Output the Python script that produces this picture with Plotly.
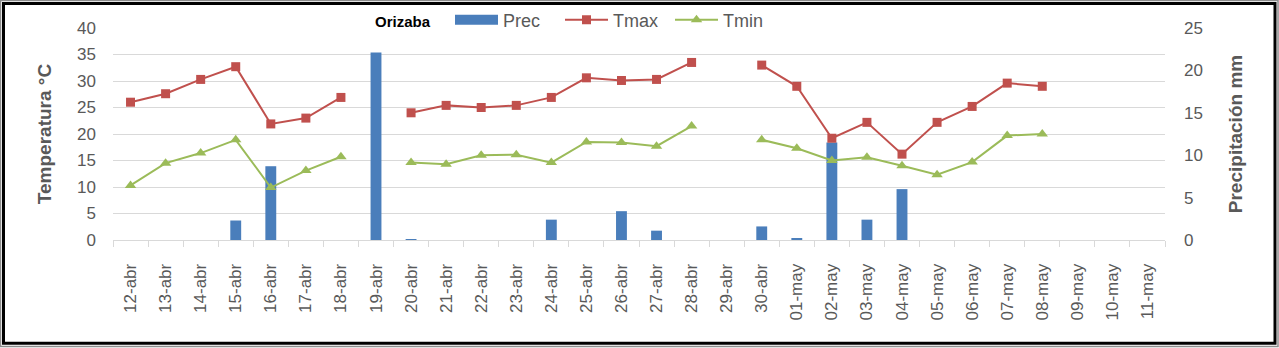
import plotly.graph_objects as go

dates = ["12-abr","13-abr","14-abr","15-abr","16-abr","17-abr","18-abr","19-abr","20-abr",
         "21-abr","22-abr","23-abr","24-abr","25-abr","26-abr","27-abr","28-abr","29-abr",
         "30-abr","01-may","02-may","03-may","04-may","05-may","06-may","07-may","08-may",
         "09-may","10-may","11-may"]

prec = [0, 0, 0, 2.3, 8.7, 0, 0, 22.1, 0.1,
        0, 0, 0, 2.4, 0, 3.4, 1.1, 0, 0,
        1.6, 0.2, 11.5, 2.4, 6.0, 0, 0, 0, 0,
        0, 0, 0]

tmax = [26.0, 27.6, 30.3, 32.7, 21.9, 23.0, 26.9, None, 24.0,
        25.4, 25.0, 25.4, 26.9, 30.6, 30.1, 30.3, 33.5, None,
        33.0, 29.0, 19.2, 22.2, 16.2, 22.2, 25.2, 29.6, 29.0,
        None, None, None]

tmin = [10.3, 14.5, 16.4, 18.9, 9.9, 13.1, 15.7, None, 14.6,
        14.3, 16.0, 16.1, 14.6, 18.5, 18.4, 17.7, 21.5, None,
        18.9, 17.3, 15.0, 15.6, 14.0, 12.3, 14.7, 19.7, 20.0,
        None, None, None]

station = "Orizaba"

FONT = "Liberation Sans"
GRAY = "#595959"
GRID = "#d9d9d9"
BLUE = "#4a7ebb"

fig = go.Figure()
fig.add_trace(go.Bar(x=dates, y=prec, name="Prec", marker=dict(color=BLUE, line=dict(width=0)),
                     yaxis="y", showlegend=False))
# legend proxy for the precipitation bars (wide rectangle symbol)
fig.add_trace(go.Scatter(x=[dates[0]], y=[None], name="Prec", mode="lines", yaxis="y",
                         line=dict(color=BLUE, width=12), hoverinfo="skip"))
fig.add_trace(go.Scatter(x=dates, y=tmax, name="Tmax", mode="lines+markers", yaxis="y2",
                         line=dict(color="#c0504d", width=2),
                         marker=dict(symbol="square", size=9, color="#c0504d"),
                         connectgaps=False))
fig.add_trace(go.Scatter(x=dates, y=tmin, name="Tmin", mode="lines+markers", yaxis="y2",
                         line=dict(color="#9bbb59", width=2),
                         marker=dict(symbol="triangle-up", size=10, color="#9bbb59"),
                         connectgaps=False))

L, R, T, B = 113, 114, 28, 108
W, H = 1279, 348
PW, PH = W - L - R, H - T - B

def px(x):
    return (x - L) / PW

def py(y):
    return (H - B - y) / PH

fig.update_layout(
    width=W, height=H,
    margin=dict(l=L, r=R, t=T, b=B, autoexpand=False),
    paper_bgcolor="white", plot_bgcolor="white",
    font=dict(family=FONT, size=17, color=GRAY),
    bargap=0.69,
    showlegend=True,
    legend=dict(orientation="h", x=px(450), xanchor="left", y=py(20), yanchor="middle",
                font=dict(family=FONT, size=18, color=GRAY),
                itemwidth=43, entrywidth=52, entrywidthmode="pixels",
                traceorder="normal", bgcolor="rgba(0,0,0,0)", borderwidth=0),
    xaxis=dict(type="category", tickangle=-90, showgrid=False,
               showline=True, linecolor=GRID, linewidth=1,
               ticks="outside", ticklen=6, tickcolor=GRID, tickson="boundaries",
               ticklabelstandoff=16,
               tickfont=dict(family=FONT, size=17, color=GRAY),
               range=[-0.5, 29.5]),
    yaxis=dict(side="right", range=[0, 25], tickvals=[0, 5, 10, 15, 20, 25],
               showgrid=False, zeroline=False, showline=False,
               ticks="", ticklabelstandoff=18,
               tickfont=dict(family=FONT, size=17, color=GRAY),
               title=dict(text="<b>Precipitación mm</b>", standoff=26,
                          font=dict(family=FONT, size=19, color=GRAY))),
    yaxis2=dict(side="left", overlaying="y", range=[0, 40], dtick=5,
                showgrid=True, gridcolor=GRID, gridwidth=1.3, zeroline=False, showline=False,
                ticks="", ticklabelstandoff=16,
                tickfont=dict(family=FONT, size=17, color=GRAY),
                title=dict(text="<b>Temperatura °C</b>", standoff=20,
                           font=dict(family=FONT, size=19, color=GRAY))),
)

fig.add_annotation(text="<b>" + station + "</b>", xref="paper", yref="paper",
                   x=px(373), y=py(21), xanchor="left", yanchor="middle", showarrow=False,
                   font=dict(family=FONT, size=15, color="black"))

# outer frame of the picture
fig.add_shape(type="rect", xref="paper", yref="paper",
              x0=px(0.5), x1=px(1278), y0=py(346.5), y1=py(0.5),
              line=dict(color="#8c8c8c", width=1.5), fillcolor="rgba(0,0,0,0)", layer="above")
fig.add_shape(type="rect", xref="paper", yref="paper",
              x0=px(3.5), x1=px(1275), y0=py(343.3), y1=py(3.5),
              line=dict(color="black", width=3), fillcolor="rgba(0,0,0,0)", layer="above")

fig.write_html("out.html")
